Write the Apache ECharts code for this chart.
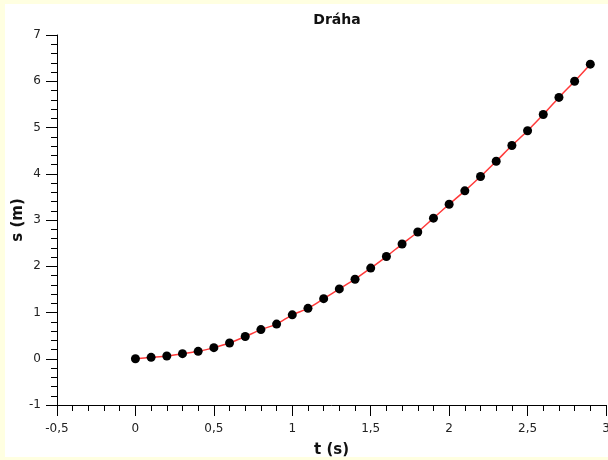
<!DOCTYPE html>
<html>
<head>
<meta charset="utf-8">
<script src="https://cdn.jsdelivr.net/npm/echarts@6/dist/echarts.min.js"></script>
<style>
  html, body { margin: 0; padding: 0; background: #ffffe1; }
  #chart { width: 608px; height: 460px; }
</style>
</head>
<body>
<div id="chart"></div>
<script>
// Measured distance s (m) over time t (s)
const times = [0, 0.1, 0.2, 0.3, 0.4, 0.5, 0.6, 0.7, 0.8, 0.9,
               1.0, 1.1, 1.2, 1.3, 1.4, 1.5, 1.6, 1.7, 1.8, 1.9,
               2.0, 2.1, 2.2, 2.3, 2.4, 2.5, 2.6, 2.7, 2.8, 2.9];
const distances = [0, 0.03, 0.06, 0.11, 0.16, 0.24, 0.34, 0.48, 0.63, 0.75,
                   0.95, 1.09, 1.30, 1.51, 1.72, 1.96, 2.21, 2.48, 2.74, 3.04,
                   3.34, 3.63, 3.94, 4.27, 4.61, 4.93, 5.28, 5.65, 6.00, 6.37];

const titleText = 'Dráha';
const xName = 't (s)';
const yName = 's (m)';

const points = times.map((t, i) => [t, distances[i]]);
const fmt = v => String(Math.round(v * 10) / 10).replace('.', ',');
const labelFont = { fontFamily: 'DejaVu Sans', fontSize: 12, color: '#222' };

const chart = echarts.init(document.getElementById('chart'), null, { renderer: 'canvas' });
chart.setOption({
  backgroundColor: '#ffffe1',
  animation: false,
  graphic: [{
    type: 'rect', z: -10, silent: true,
    shape: { x: 5, y: 4, width: 603, height: 453 },
    style: { fill: '#ffffff' }
  }],
  title: {
    text: titleText, left: 332, top: 8, textAlign: 'center',
    textStyle: { fontFamily: 'DejaVu Sans', fontWeight: 'bold', fontSize: 14, color: '#111' }
  },
  grid: { left: 57, right: 2, top: 35, bottom: 55, containLabel: false, outerBoundsMode: 'none' },
  xAxis: {
    type: 'value', min: -0.5, max: 3, interval: 0.5,
    name: xName, nameLocation: 'middle', nameGap: 38, nameMoveOverlap: false,
    nameTextStyle: { fontFamily: 'DejaVu Sans', fontWeight: 'bold', fontSize: 15, color: '#111' },
    axisLine: { show: true, onZero: false, lineStyle: { color: '#000', width: 1 } },
    axisTick: { show: true, length: 11, lineStyle: { color: '#000' } },
    minorTick: { show: true, splitNumber: 5, length: 6, lineStyle: { color: '#000' } },
    splitLine: { show: false },
    axisLabel: Object.assign({ margin: 18, formatter: fmt }, labelFont)
  },
  yAxis: {
    type: 'value', min: -1, max: 7, interval: 1,
    name: yName, nameLocation: 'middle', nameGap: 31, nameMoveOverlap: false,
    nameTextStyle: { fontFamily: 'DejaVu Sans', fontWeight: 'bold', fontSize: 15, color: '#111' },
    axisLine: { show: true, onZero: false, lineStyle: { color: '#000', width: 1 } },
    axisTick: { show: true, length: 11, lineStyle: { color: '#000' } },
    minorTick: { show: true, splitNumber: 5, length: 6, lineStyle: { color: '#000' } },
    splitLine: { show: false },
    axisLabel: Object.assign({ margin: 16, formatter: fmt }, labelFont)
  },
  series: [{
    type: 'line',
    data: points,
    smooth: 0.3,
    symbol: 'circle',
    symbolSize: 9,
    itemStyle: { color: '#000' },
    lineStyle: { color: '#ff3a3a', width: 1.5 },
    clip: false
  }]
});
</script>
</body>
</html>
